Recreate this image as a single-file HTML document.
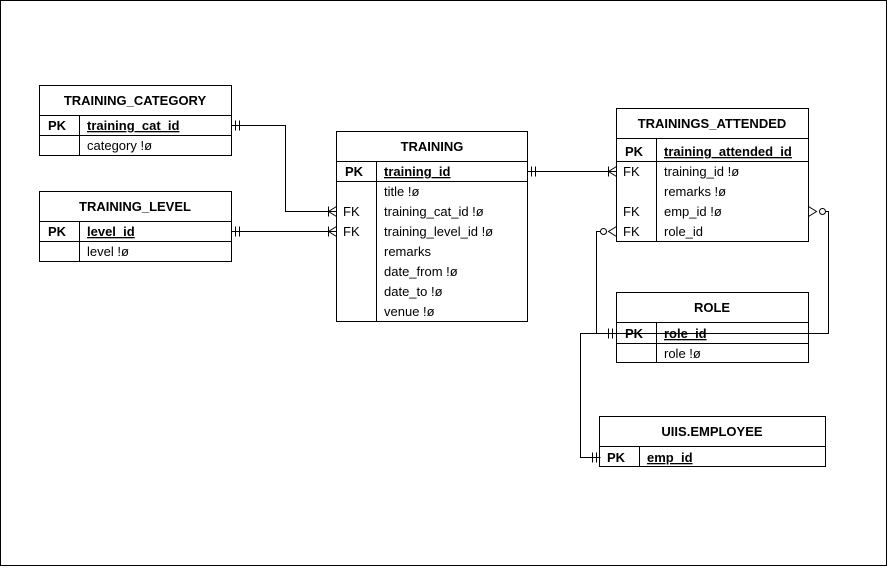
<!DOCTYPE html>
<html><head><meta charset="utf-8"><style>
body{margin:0;background:#fff}
svg text{font-family:"Liberation Sans",Arial,sans-serif;font-size:13px;fill:#000}
.h{font-weight:bold;text-anchor:middle}
.b{font-weight:bold}
.u{font-weight:bold;text-decoration:underline}
</style></head><body>
<svg width="888" height="567" viewBox="0 0 888 567" xmlns="http://www.w3.org/2000/svg">
<rect x="0.5" y="0.5" width="886" height="565" fill="#fff" stroke="#000"/>
<g fill="none" stroke="#000" stroke-width="1">
<rect x="39.5" y="85.5" width="192" height="70"/>
<line x1="39.5" y1="115.5" x2="231.5" y2="115.5"/>
<line x1="39.5" y1="135.5" x2="231.5" y2="135.5"/>
<line x1="79.5" y1="115.5" x2="79.5" y2="155.5"/>
<rect x="39.5" y="191.5" width="192" height="70"/>
<line x1="39.5" y1="221.5" x2="231.5" y2="221.5"/>
<line x1="39.5" y1="241.5" x2="231.5" y2="241.5"/>
<line x1="79.5" y1="221.5" x2="79.5" y2="261.5"/>
<rect x="336.5" y="131.5" width="191" height="190"/>
<line x1="336.5" y1="161.5" x2="527.5" y2="161.5"/>
<line x1="336.5" y1="181.5" x2="527.5" y2="181.5"/>
<line x1="376.5" y1="161.5" x2="376.5" y2="321.5"/>
<rect x="616.5" y="108.5" width="192" height="133"/>
<line x1="616.5" y1="138.5" x2="808.5" y2="138.5"/>
<line x1="616.5" y1="161.5" x2="808.5" y2="161.5"/>
<line x1="656.5" y1="138.5" x2="656.5" y2="241.5"/>
<rect x="616.5" y="292.5" width="192" height="70"/>
<line x1="616.5" y1="322.5" x2="808.5" y2="322.5"/>
<line x1="616.5" y1="343.5" x2="808.5" y2="343.5"/>
<line x1="656.5" y1="322.5" x2="656.5" y2="362.5"/>
<rect x="599.5" y="416.5" width="226" height="50"/>
<line x1="599.5" y1="446.5" x2="825.5" y2="446.5"/>
<line x1="639.5" y1="446.5" x2="639.5" y2="466.5"/>
<polyline points="231.5,125.5 285.5,125.5 285.5,211.5 336.5,211.5"/>
<line x1="235.5" y1="120.5" x2="235.5" y2="130.5"/><line x1="239.5" y1="120.5" x2="239.5" y2="130.5"/>
<polyline points="336.5,206.5 328.5,211.5 336.5,216.5"/><line x1="328.5" y1="206.5" x2="328.5" y2="216.5"/>
<line x1="231.5" y1="231.5" x2="336.5" y2="231.5"/>
<line x1="235.5" y1="226.5" x2="235.5" y2="236.5"/><line x1="239.5" y1="226.5" x2="239.5" y2="236.5"/>
<polyline points="336.5,226.5 328.5,231.5 336.5,236.5"/><line x1="328.5" y1="226.5" x2="328.5" y2="236.5"/>
<line x1="527.5" y1="171.5" x2="616.5" y2="171.5"/>
<line x1="531.5" y1="166.5" x2="531.5" y2="176.5"/><line x1="535.5" y1="166.5" x2="535.5" y2="176.5"/>
<polyline points="616.5,166.5 608.5,171.5 616.5,176.5"/><line x1="608.5" y1="166.5" x2="608.5" y2="176.5"/>
<polyline points="616.5,333.5 596.5,333.5 596.5,231.5 600.5,231.5"/>
<circle cx="603.5" cy="231.5" r="3"/>
<polyline points="616.5,226.5 608.5,231.5 616.5,236.5"/>
<line x1="608.5" y1="328.5" x2="608.5" y2="338.5"/><line x1="612.5" y1="328.5" x2="612.5" y2="338.5"/>
<polyline points="600.5,457.5 580.5,457.5 580.5,333.5 828.5,333.5 828.5,211.5 825.5,211.5"/>
<circle cx="822.5" cy="211.5" r="3"/>
<polyline points="808.5,206.5 816.5,211.5 808.5,216.5"/>
<line x1="592.5" y1="452.5" x2="592.5" y2="462.5"/><line x1="596.5" y1="452.5" x2="596.5" y2="462.5"/>
</g>
<text class="h" x="135" y="105">TRAINING_CATEGORY</text>
<text class="b" x="48" y="130">PK</text><text class="u" x="87" y="130">training_cat_id</text>
<text x="87" y="150">category !ø</text>
<text class="h" x="135" y="211">TRAINING_LEVEL</text>
<text class="b" x="48" y="236">PK</text><text class="u" x="87" y="236">level_id</text>
<text x="87" y="256">level !ø</text>
<text class="h" x="432" y="151">TRAINING</text>
<text class="b" x="345" y="176">PK</text><text class="u" x="384" y="176">training_id</text>
<text x="384" y="196">title !ø</text>
<text x="343" y="216">FK</text><text x="384" y="216">training_cat_id !ø</text>
<text x="343" y="236">FK</text><text x="384" y="236">training_level_id !ø</text>
<text x="384" y="256">remarks</text>
<text x="384" y="276">date_from !ø</text>
<text x="384" y="296">date_to !ø</text>
<text x="384" y="316">venue !ø</text>
<text class="h" x="712" y="128">TRAININGS_ATTENDED</text>
<text class="b" x="625" y="156">PK</text><text class="u" x="664" y="156">training_attended_id</text>
<text x="623" y="176">FK</text><text x="664" y="176">training_id !ø</text>
<text x="664" y="196">remarks !ø</text>
<text x="623" y="216">FK</text><text x="664" y="216">emp_id !ø</text>
<text x="623" y="236">FK</text><text x="664" y="236">role_id</text>
<text class="h" x="712" y="312">ROLE</text>
<text class="b" x="625" y="338">PK</text><text class="u" x="664" y="338">role_id</text>
<text x="664" y="358">role !ø</text>
<text class="h" x="712" y="436">UIIS.EMPLOYEE</text>
<text class="b" x="607" y="462">PK</text><text class="u" x="647" y="462">emp_id</text>
</svg>
</body></html>
